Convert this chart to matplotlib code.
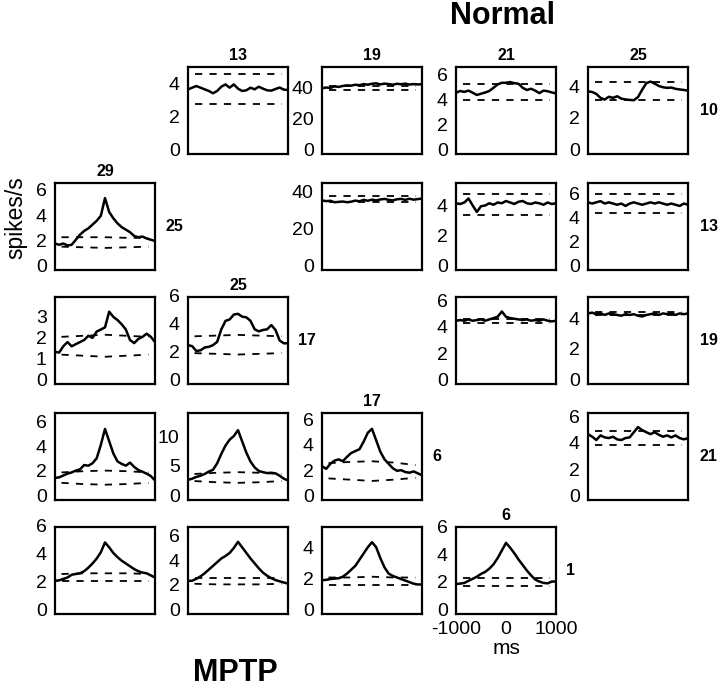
"""
Cross-correlograms of pallidal neuron pairs, Normal vs MPTP.
"""

import numpy as np
import matplotlib
matplotlib.use("Agg")
import matplotlib.pyplot as plt
from matplotlib.transforms import ScaledTranslation

plt.rcParams['font.family'] = ['Liberation Sans', 'DejaVu Sans']
plt.rcParams['axes.unicode_minus'] = False

# lag axis (ms) shared by all correlograms
n_bins = 25
lags = np.linspace(-1000, 1000, n_bins)
band_lags = np.linspace(-870, 870, 5)

# ---- Normal (upper right triangle) ----
r0c1_rate = [3.94, 4.04, 4.14, 4.04, 3.94, 3.84, 3.70, 3.84, 4.10, 4.24, 4.04, 4.24, 3.98,
             3.84, 3.88, 4.04, 3.94, 4.10, 3.98, 3.88, 3.86, 3.96, 4.05, 3.92, 3.90]
r0c1_hi = [4.85] * 5
r0c1_lo = [3.03] * 5

r0c2_rate = [42.3, 42.8, 42.5, 43.5, 43.2, 43.8, 44.2, 44.0, 44.6, 44.3, 45.0, 44.6, 45.2,
             45.5, 44.8, 45.3, 45.0, 44.6, 45.2, 44.9, 45.3, 44.7, 45.0, 44.8, 44.9]
r0c2_hi = [44.0] * 5
r0c2_lo = [41.3] * 5

r0c3_rate = [4.93, 5.07, 5.00, 5.10, 4.93, 4.75, 4.85, 4.95, 5.07, 5.33, 5.60, 5.73, 5.73,
             5.79, 5.70, 5.65, 5.33, 5.15, 5.25, 5.10, 4.90, 5.10, 5.05, 4.95, 4.88]
r0c3_hi = [5.65] * 5
r0c3_lo = [4.32] * 5

r0c4_rate = [3.96, 3.92, 3.80, 3.55, 3.44, 3.62, 3.55, 3.65, 3.50, 3.45, 3.42, 3.40, 3.60,
             4.06, 4.48, 4.58, 4.45, 4.30, 4.22, 4.18, 4.20, 4.12, 4.08, 4.05, 4.00]
r0c4_hi = [4.58] * 5
r0c4_lo = [3.40] * 5

r1c2_rate = [37.6, 37.2, 37.4, 36.6, 36.8, 37.0, 36.6, 36.9, 37.5, 37.1, 37.9, 37.4, 38.0,
             37.6, 38.1, 38.4, 37.9, 37.6, 38.2, 38.4, 37.9, 38.5, 38.0, 38.3, 38.6]
r1c2_hi = [40.2] * 5
r1c2_lo = [36.5] * 5

r1c3_rate = [4.45, 4.40, 4.50, 4.77, 4.30, 3.87, 4.25, 4.30, 4.45, 4.35, 4.50, 4.45, 4.60,
             4.50, 4.40, 4.55, 4.60, 4.45, 4.40, 4.50, 4.45, 4.35, 4.50, 4.40, 4.45]
r1c3_hi = [5.05] * 5
r1c3_lo = [3.70] * 5

r1c4_rate = [5.60, 5.50, 5.60, 5.70, 5.50, 5.60, 5.50, 5.40, 5.50, 5.30, 5.50, 5.60, 5.50,
             5.40, 5.50, 5.60, 5.50, 5.60, 5.50, 5.40, 5.50, 5.40, 5.30, 5.50, 5.40]
r1c4_hi = [6.30] * 5
r1c4_lo = [4.73] * 5

r2c3_rate = [4.80, 4.85, 4.80, 4.90, 4.80, 4.85, 4.90, 4.80, 4.90, 5.00, 5.10, 5.50, 5.10,
             5.00, 4.95, 4.90, 4.85, 4.90, 4.80, 4.85, 4.80, 4.90, 4.80, 4.75, 4.80]
r2c3_hi = [4.95] * 5
r2c3_lo = [4.60] * 5

r2c4_rate = [4.60, 4.65, 4.55, 4.60, 4.50, 4.60, 4.55, 4.50, 4.45, 4.55, 4.50, 4.55, 4.45,
             4.40, 4.50, 4.55, 4.60, 4.50, 4.60, 4.55, 4.60, 4.50, 4.60, 4.55, 4.60]
r2c4_hi = [4.66] * 5
r2c4_lo = [4.50] * 5

r3c4_rate = [5.00, 4.80, 4.55, 4.90, 4.75, 4.70, 4.80, 4.60, 4.55, 4.70, 4.75, 5.14, 5.53,
             5.30, 5.14, 5.00, 5.14, 4.95, 4.80, 4.90, 4.75, 4.90, 4.70, 4.60, 4.70]
r3c4_hi = [5.20] * 5
r3c4_lo = [4.20] * 5

# ---- MPTP (lower left triangle) ----
r1c0_rate = [2.10, 2.00, 2.10, 1.95, 2.00, 2.40, 2.80, 3.10, 3.30, 3.60, 3.90, 4.30, 5.70,
             4.60, 4.10, 3.70, 3.40, 3.20, 3.00, 2.70, 2.60, 2.65, 2.50, 2.40, 2.30]
r1c0_hi = [2.60, 2.60, 2.60, 2.55, 2.55]
r1c0_lo = [1.85, 1.80, 1.75, 1.80, 1.85]

r2c0_rate = [1.53, 1.50, 1.80, 2.00, 1.80, 1.90, 2.00, 2.10, 2.30, 2.20, 2.50, 2.60, 2.70,
             3.45, 3.20, 3.05, 2.85, 2.60, 2.10, 1.95, 2.15, 2.25, 2.40, 2.25, 2.00]
r2c0_hi = [2.25, 2.30, 2.35, 2.30, 2.25]
r2c0_lo = [1.40, 1.35, 1.30, 1.35, 1.40]

r2c1_rate = [2.77, 2.70, 2.35, 2.40, 2.60, 2.65, 2.77, 3.00, 3.90, 4.50, 4.60, 4.95, 5.00,
             4.80, 4.75, 4.50, 3.90, 3.75, 3.85, 3.90, 4.20, 3.85, 3.10, 2.90, 2.90]
r2c1_hi = [3.40, 3.45, 3.50, 3.45, 3.40]
r2c1_lo = [2.20, 2.15, 2.10, 2.15, 2.20]

r3c0_rate = [1.80, 1.85, 2.00, 2.15, 2.25, 2.40, 2.50, 2.85, 2.80, 3.00, 3.40, 4.50, 5.80,
             4.80, 3.80, 3.15, 2.95, 2.80, 3.05, 2.70, 2.45, 2.30, 2.15, 1.95, 1.60]
r3c0_hi = [2.25, 2.35, 2.40, 2.35, 2.25]
r3c0_lo = [1.40, 1.30, 1.25, 1.30, 1.40]

r3c1_rate = [3.40, 3.60, 3.90, 4.10, 4.40, 4.80, 5.10, 6.20, 7.80, 9.20, 10.2, 10.8, 11.8,
             9.90, 8.00, 6.50, 5.50, 4.90, 4.70, 4.55, 4.60, 4.50, 4.10, 3.60, 3.30]
r3c1_hi = [4.40, 4.60, 4.70, 4.60, 4.40]
r3c1_lo = [3.20, 3.00, 2.90, 3.00, 3.20]

r3c2_rate = [2.67, 2.45, 2.85, 3.10, 3.20, 3.05, 3.40, 3.70, 3.85, 4.00, 4.60, 5.30, 5.60,
             4.70, 3.80, 3.20, 2.85, 2.50, 2.30, 2.35, 2.20, 2.15, 2.25, 2.10, 1.95]
r3c2_hi = [2.90, 3.00, 3.05, 2.95, 2.75]
r3c2_lo = [1.70, 1.60, 1.50, 1.60, 1.75]

r4c0_rate = [2.36, 2.40, 2.50, 2.60, 2.80, 2.85, 2.90, 3.05, 3.30, 3.60, 3.95, 4.40, 5.10,
             4.75, 4.35, 4.05, 3.80, 3.60, 3.40, 3.20, 3.05, 2.95, 2.90, 2.75, 2.60]
r4c0_hi = [2.85, 2.90, 2.90, 2.90, 2.85]
r4c0_lo = [2.35, 2.35, 2.35, 2.35, 2.35]

r4c1_rate = [2.68, 2.70, 2.85, 3.05, 3.30, 3.60, 3.90, 4.20, 4.50, 4.70, 4.95, 5.35, 5.85,
             5.40, 4.95, 4.50, 4.10, 3.70, 3.35, 3.10, 2.90, 2.75, 2.65, 2.55, 2.47]
r4c1_hi = [2.95] * 5
r4c1_lo = [2.45, 2.40, 2.40, 2.40, 2.45]

r4c2_rate = [2.17, 2.20, 2.25, 2.28, 2.30, 2.40, 2.60, 2.85, 3.10, 3.50, 3.90, 4.30, 4.62,
             4.30, 3.60, 3.00, 2.60, 2.45, 2.35, 2.25, 2.15, 2.05, 1.95, 1.90, 1.90]
r4c2_hi = [2.35, 2.35, 2.40, 2.35, 2.35]
r4c2_lo = [1.85] * 5

r4c3_rate = [2.17, 2.20, 2.25, 2.40, 2.55, 2.70, 2.90, 3.05, 3.28, 3.60, 4.05, 4.60, 5.15,
             4.80, 4.40, 3.95, 3.55, 3.15, 2.80, 2.50, 2.35, 2.25, 2.22, 2.35, 2.35]
r4c3_hi = [2.60] * 5
r4c3_lo = [2.05] * 5

# (row, col, rate, upper band, lower band, y max, y ticks, title, side label)
panels = [
    (0, 1, r0c1_rate, r0c1_hi, r0c1_lo, 5.3, [0, 2, 4], '13', None),
    (0, 2, r0c2_rate, r0c2_hi, r0c2_lo, 56, [0, 20, 40], '19', None),
    (0, 3, r0c3_rate, r0c3_hi, r0c3_lo, 7.0, [0, 2, 4, 6], '21', None),
    (0, 4, r0c4_rate, r0c4_hi, r0c4_lo, 5.5, [0, 2, 4], '25', '10'),
    (1, 0, r1c0_rate, r1c0_hi, r1c0_lo, 6.9, [0, 2, 4, 6], '29', '25'),
    (1, 2, r1c2_rate, r1c2_hi, r1c2_lo, 47, [0, 20, 40], None, None),
    (1, 3, r1c3_rate, r1c3_hi, r1c3_lo, 5.8, [0, 2, 4], None, None),
    (1, 4, r1c4_rate, r1c4_hi, r1c4_lo, 7.2, [0, 2, 4, 6], None, '13'),
    (2, 0, r2c0_rate, r2c0_hi, r2c0_lo, 4.15, [0, 1, 2, 3], None, None),
    (2, 1, r2c1_rate, r2c1_hi, r2c1_lo, 6.2, [0, 2, 4, 6], '25', '17'),
    (2, 3, r2c3_rate, r2c3_hi, r2c3_lo, 6.6, [0, 2, 4, 6], None, None),
    (2, 4, r2c4_rate, r2c4_hi, r2c4_lo, 5.67, [0, 2, 4], None, '19'),
    (3, 0, r3c0_rate, r3c0_hi, r3c0_lo, 7.1, [0, 2, 4, 6], None, None),
    (3, 1, r3c1_rate, r3c1_hi, r3c1_lo, 14.7, [0, 5, 10], None, None),
    (3, 2, r3c2_rate, r3c2_hi, r3c2_lo, 6.85, [0, 2, 4, 6], '17', '6'),
    (3, 4, r3c4_rate, r3c4_hi, r3c4_lo, 6.6, [0, 2, 4, 6], None, '21'),
    (4, 0, r4c0_rate, r4c0_hi, r4c0_lo, 6.2, [0, 2, 4, 6], None, None),
    (4, 1, r4c1_rate, r4c1_hi, r4c1_lo, 7.05, [0, 2, 4, 6], None, None),
    (4, 2, r4c2_rate, r4c2_hi, r4c2_lo, 5.6, [0, 2, 4], None, None),
    (4, 3, r4c3_rate, r4c3_hi, r4c3_lo, 6.3, [0, 2, 4, 6], '6', '1'),
]

W, H = 720, 688
col_left = [55, 188, 322, 456, 588]
row_top = [67, 183, 297, 413, 527]
box_w, box_h = 100, 87

fig = plt.figure(figsize=(W / 100, H / 100), dpi=100)
# scanned figure: y tick digits sit a few pixels above their ticks
lift = ScaledTranslation(0, 0.045, fig.dpi_scale_trans)

for row, col, rate, hi, lo, ymax, yticks, title, side in panels:
    ax = fig.add_axes([col_left[col] / W, 1 - (row_top[row] + box_h) / H,
                       box_w / W, box_h / H])
    ax.plot(lags, rate, color='black', lw=1.8, solid_joinstyle='round')
    ax.plot(band_lags, hi, color='black', lw=1.3, dashes=(4, 4))
    ax.plot(band_lags, lo, color='black', lw=1.3, dashes=(4, 4))
    ax.set_xlim(-1000, 1000)
    ax.set_ylim(0, ymax)
    ax.set_yticks(yticks)
    ax.tick_params(axis='both', length=0, labelsize=14, pad=6)
    for lab in ax.get_yticklabels():
        lab.set_transform(lab.get_transform() + lift)
    for sp in ax.spines.values():
        sp.set_linewidth(1.6)
    if row == 4 and col == 3:
        ax.set_xticks([-1000, 0, 1000])
        ax.tick_params(axis='x', pad=5)
        ax.set_xlabel('ms', fontsize=15, labelpad=1)
    else:
        ax.set_xticks([])
    if title:
        ax.set_title(title, fontsize=11.5, fontweight='bold', pad=5)
    if side:
        dx = 0.12 if col == 4 else 0.10
        ax.text(1 + dx, 0.5, side, transform=ax.transAxes, fontsize=11.5,
                fontweight='bold', ha='left', va='center')

fig.text(502 / W, 1 - 16 / H, 'Normal', fontsize=22, fontweight='bold',
         ha='center', va='center')
fig.text(235 / W, 1 - 673 / H, 'MPTP', fontsize=22, fontweight='bold',
         ha='center', va='center')
fig.text(16 / W, 1 - 218 / H, 'spikes/s', fontsize=16.5, rotation=90,
         ha='center', va='center')

fig.savefig('out.png', dpi=100)
